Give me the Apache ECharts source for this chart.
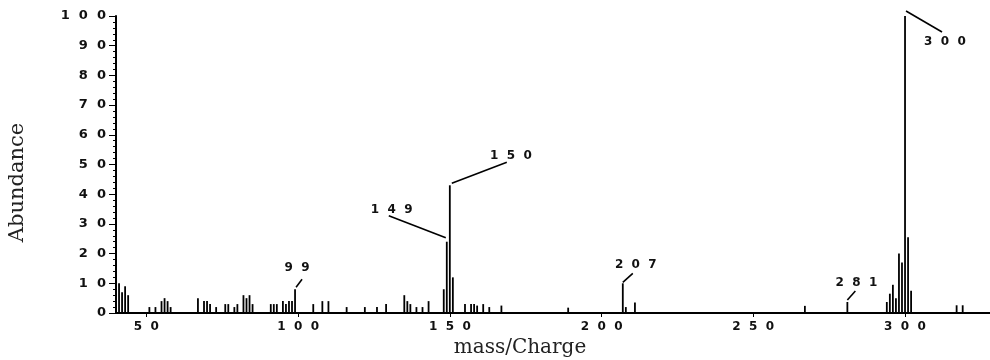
<!DOCTYPE html>
<html>
<head>
<meta charset="utf-8">
<script src="https://cdn.jsdelivr.net/npm/echarts@6/dist/echarts.min.js"></script>
<style>
  html, body { margin: 0; padding: 0; background: #fff; }
  #chart { width: 990px; height: 360px; }
</style>
</head>
<body>
<div id="chart"></div>
<script>
// peak list: m/z and relative abundance
const mz = [
  41, 42, 43, 44, 51, 53, 55, 56, 57, 58,
  67, 69, 70, 71, 73, 76, 77, 79, 80, 82, 83, 84, 85,
  91, 92, 93, 95, 96, 97, 98, 99, 105, 108, 110, 116, 122, 126, 129,
  135, 136, 137, 139, 141, 143, 148, 149, 150, 151, 155, 157, 158, 159, 161, 163, 167,
  189, 207, 208, 211, 267, 281,
  294, 295, 296, 297, 298, 299, 300, 301, 302, 317, 319
];
const abundance = [
  10, 7, 9, 6, 2, 2, 4, 5, 4, 2,
  5, 4, 4, 3, 2, 3, 3, 2, 3, 6, 5, 6, 3,
  3, 3, 3, 4, 3, 4, 4, 8, 3, 4, 4, 2, 2, 2, 3,
  6, 4, 3, 2, 2, 4, 8, 24, 43, 12, 3, 3, 3, 2.5, 3, 2, 2.5,
  1.8, 10, 2, 3.5, 2.4, 3.7,
  3.7, 6.5, 9.5, 5, 20, 17, 100, 25.5, 7.5, 2.6, 2.6
];
const xTicks = [50, 100, 150, 200, 250, 300];
const labelledPeaks = [99, 149, 150, 207, 281, 300];

// leader line / label offsets in px from the top of each labelled peak
const leaders = {
  99:  { from: [1, -2],  to: [7, -10],   text: [2, -21] },
  149: { from: [-1, -4], to: [-58, -26], text: [-55, -32] },
  150: { from: [2, -2],  to: [57, -23],  text: [61, -29] },
  207: { from: [0, -1],  to: [10, -10],  text: [13, -18] },
  281: { from: [0, -2],  to: [8, -11],   text: [9, -19] },
  300: { from: [1, -5],  to: [37, 16],   text: [40, 26] }
};

// the plotter prints digits with wide gaps between them
const spaced = (s) => String(s).split('').join('\u2002\u2009');
const tickFont = { fontFamily: 'DejaVu Sans', fontWeight: 'bold', color: '#111' };

const chart = echarts.init(document.getElementById('chart'));

const peakData = mz.map((m, i) => [m, abundance[i]]);
const labelData = labelledPeaks.map((m) => [m, abundance[mz.indexOf(m)], m]);

const option = {
  animation: false,
  backgroundColor: '#fff',
  grid: { left: 116, right: 0, top: 16, bottom: 47, outerBoundsMode: 'none' },
  xAxis: {
    type: 'value',
    min: 40,
    max: 328,
    name: 'mass/Charge',
    nameLocation: 'middle',
    nameGap: 22,
    nameTextStyle: {
      fontFamily: 'DejaVu Serif',
      fontSize: 20,
      color: '#222',
      padding: [0, 66, 0, 0]
    },
    axisLine: { lineStyle: { color: '#000', width: 2 } },
    axisTick: { customValues: xTicks, length: 4, lineStyle: { color: '#000' } },
    axisLabel: {
      customValues: xTicks,
      formatter: (v) => spaced(v),
      fontSize: 12,
      margin: 8,
      ...tickFont
    },
    splitLine: { show: false }
  },
  yAxis: {
    type: 'value',
    min: 0,
    max: 100,
    interval: 10,
    name: 'Abundance',
    nameLocation: 'middle',
    nameGap: 88,
    nameRotate: 90,
    nameTextStyle: {
      fontFamily: 'DejaVu Serif',
      fontSize: 21,
      color: '#222',
      padding: [0, 36, 0, 0]
    },
    axisLine: { show: true, lineStyle: { color: '#000', width: 2 } },
    axisTick: { show: true, length: 7, lineStyle: { color: '#000' } },
    minorTick: { show: true, splitNumber: 5, length: 3, lineStyle: { color: '#000' } },
    axisLabel: {
      formatter: (v) => spaced(v),
      fontSize: 13,
      margin: 10,
      ...tickFont
    },
    splitLine: { show: false }
  },
  series: [
    {
      name: 'peaks',
      type: 'bar',
      data: peakData,
      barWidth: 1.8,
      itemStyle: { color: '#000' },
      silent: true
    },
    {
      name: 'labels',
      type: 'custom',
      data: labelData,
      silent: true,
      z: 5,
      renderItem: (params, api) => {
        const top = api.coord([api.value(0), api.value(1)]);
        const o = leaders[api.value(2)];
        return {
          type: 'group',
          children: [
            {
              type: 'line',
              shape: {
                x1: top[0] + o.from[0], y1: top[1] + o.from[1],
                x2: top[0] + o.to[0], y2: top[1] + o.to[1]
              },
              style: { stroke: '#000', lineWidth: 1.6 }
            },
            {
              type: 'text',
              x: top[0] + o.text[0],
              y: top[1] + o.text[1],
              style: {
                text: spaced(api.value(2)),
                fill: '#111',
                font: 'bold 12px "DejaVu Sans"',
                align: 'center',
                verticalAlign: 'middle'
              }
            }
          ]
        };
      }
    }
  ]
};

chart.setOption(option);
window.addEventListener('resize', () => chart.resize());
</script>
</body>
</html>
